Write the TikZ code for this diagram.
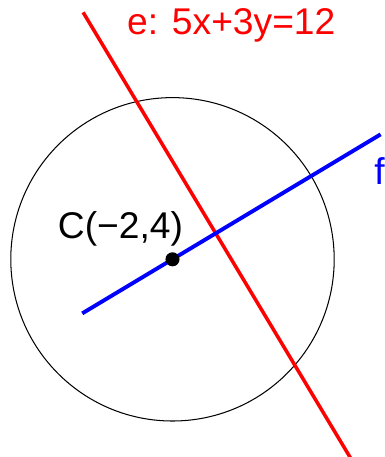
\documentclass[tikz,border=0pt]{standalone}
\usepackage{fontspec}
\setmainfont{Liberation Sans}
\usetikzlibrary{positioning,calc}

\begin{document}
\begin{tikzpicture}[x=0.5cm, y=0.5cm,
    lbl/.style={inner sep=0pt, font=\fontsize{18}{21}\selectfont},
    linee/.style={draw=red, line width=1.7pt},
    linef/.style={draw=blue, line width=1.9pt},
    kreis/.style={draw=black, line width=0.5pt}
]
    \useasboundingbox (-7.867,-2.724) rectangle (5.194,12.820);

    \coordinate (C) at (-2,4);
    \coordinate (e1) at (-5.04,12.4);
    \coordinate (e2) at (4.14,-2.9);
    \coordinate (f1) at (-5.07,2.16);
    \coordinate (f2) at (5.08,8.25);

    \draw[kreis] (C) circle (5.5);
    \draw[linee] (e1) -- (e2);
    \draw[linef] (f1) -- (f2);
    \fill (C) circle (3.4pt);

    \node[lbl, text=red, anchor=base] (elabel) at (0,11.63) {e: 5x+3y=12};
    \node[lbl, text=blue, anchor=base west] (flabel) at (4.85,6.56) {f};
    \node[lbl, anchor=base] (clabel) at (-3.77,4.72) {C(−2,4)};
\end{tikzpicture}
\end{document}
